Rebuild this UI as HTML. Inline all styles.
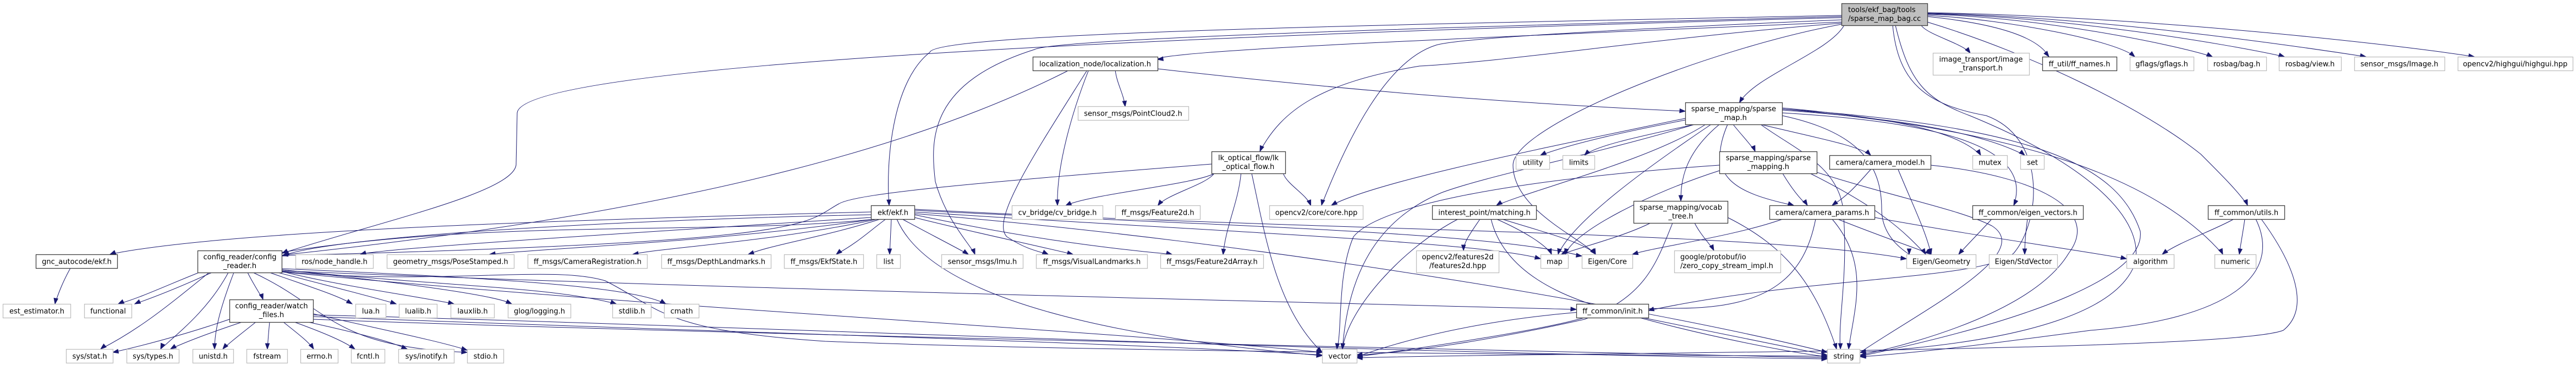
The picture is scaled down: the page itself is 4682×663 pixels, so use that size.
<!DOCTYPE html>
<html><head><meta charset="utf-8">
<style>
html,body{margin:0;padding:0;background:#fff;}
svg{display:block;}
text{font-family:"DejaVu Sans","Liberation Sans",sans-serif;font-size:13px;fill:#000;text-anchor:middle;}
.b{fill:#fff;stroke:#404040;stroke-width:1.3;}
.g{fill:#fff;stroke:#bfbfbf;stroke-width:1.3;}
.e{fill:none;stroke:#191970;stroke-width:1;}
.a{fill:#191970;stroke:#191970;stroke-width:1;}
</style></head><body>
<svg id="s" width="4682" height="663" viewBox="0 0 4682 663" xmlns="http://www.w3.org/2000/svg">
<g id="edges"></g>
<g id="nodes">
<rect id="R" x="3347.5" y="6.5" width="156" height="40" style="fill:#bfbfbf;stroke:#404040;stroke-width:1.3"/><text x="3359" y="22" style="text-anchor:start">tools/ekf_bag/tools</text><text x="3359" y="38" style="text-anchor:start">/sparse_map_bag.cc</text>
<rect id="loc" class="b" x="1877.5" y="103.5" width="227" height="25"/><text x="1990.5" y="120.5">localization_node/localization.h</text>
<rect id="imgt" class="g" x="3513.5" y="96.5" width="175" height="40"/><text x="3600.5" y="112">image_transport/image</text><text x="3600.5" y="128">_transport.h</text>
<rect id="ffn" class="b" x="3712.5" y="103.5" width="135" height="25"/><text x="3779.5" y="120.5">ff_util/ff_names.h</text>
<rect id="gfl" class="g" x="3871.5" y="103.5" width="116" height="25"/><text x="3929" y="120.5">gflags/gflags.h</text>
<rect id="bag" class="g" x="4012.5" y="103.5" width="107" height="25"/><text x="4065.5" y="120.5">rosbag/bag.h</text>
<rect id="view" class="g" x="4142.5" y="103.5" width="113" height="25"/><text x="4198.5" y="120.5">rosbag/view.h</text>
<rect id="simg" class="g" x="4279.5" y="103.5" width="164" height="25"/><text x="4361" y="120.5">sensor_msgs/Image.h</text>
<rect id="hg" class="g" x="4467.5" y="103.5" width="209" height="25"/><text x="4571.5" y="120.5">opencv2/highgui/highgui.hpp</text>
<rect id="pc2" class="g" x="1959.5" y="193.5" width="201" height="25"/><text x="2059.5" y="210.5">sensor_msgs/PointCloud2.h</text>
<rect id="sm" class="b" x="3063.5" y="186.5" width="176" height="40"/><text x="3151" y="202">sparse_mapping/sparse</text><text x="3151" y="218">_map.h</text>
<rect id="lk" class="b" x="2202.5" y="275.5" width="134" height="40"/><text x="2269" y="291">lk_optical_flow/lk</text><text x="2269" y="307">_optical_flow.h</text>
<rect id="util" class="g" x="2755.5" y="282.5" width="61" height="25"/><text x="2786" y="299.5">utility</text>
<rect id="lim" class="g" x="2840.5" y="282.5" width="58" height="25"/><text x="2869.5" y="299.5">limits</text>
<rect id="smp" class="b" x="3125.5" y="275.5" width="177" height="40"/><text x="3214" y="291">sparse_mapping/sparse</text><text x="3214" y="307">_mapping.h</text>
<rect id="cm" class="b" x="3325.5" y="282.5" width="184" height="25"/><text x="3417.5" y="299.5">camera/camera_model.h</text>
<rect id="mtx" class="g" x="3585.5" y="282.5" width="63" height="25"/><text x="3617" y="299.5">mutex</text>
<rect id="set" class="g" x="3672.5" y="282.5" width="43" height="25"/><text x="3694" y="299.5">set</text>
<rect id="ekf" class="b" x="1583.5" y="373.5" width="79" height="25"/><text x="1623" y="390.5">ekf/ekf.h</text>
<rect id="cvb" class="g" x="1839.5" y="373.5" width="165" height="25"/><text x="1922" y="390.5">cv_bridge/cv_bridge.h</text>
<rect id="f2d" class="g" x="2027.5" y="373.5" width="154" height="25"/><text x="2104.5" y="390.5">ff_msgs/Feature2d.h</text>
<rect id="core" class="g" x="2307.5" y="373.5" width="170" height="25"/><text x="2392.5" y="390.5">opencv2/core/core.hpp</text>
<rect id="ipm" class="b" x="2603.5" y="373.5" width="189" height="25"/><text x="2698" y="390.5">interest_point/matching.h</text>
<rect id="voc" class="b" x="2969.5" y="365.5" width="171" height="40"/><text x="3055" y="381">sparse_mapping/vocab</text><text x="3055" y="397">_tree.h</text>
<rect id="cp" class="b" x="3216.5" y="373.5" width="191" height="25"/><text x="3312" y="390.5">camera/camera_params.h</text>
<rect id="ev" class="b" x="3585.5" y="373.5" width="201" height="25"/><text x="3686" y="390.5">ff_common/eigen_vectors.h</text>
<rect id="ut" class="b" x="4013.5" y="373.5" width="139" height="25"/><text x="4083" y="390.5">ff_common/utils.h</text>
<rect id="gnc" class="b" x="65.5" y="462.5" width="148" height="25"/><text x="139.5" y="479.5">gnc_autocode/ekf.h</text>
<rect id="cr" class="b" x="359.5" y="455.5" width="153" height="40"/><text x="436" y="471">config_reader/config</text><text x="436" y="487">_reader.h</text>
<rect id="nh" class="g" x="537.5" y="462.5" width="141" height="25"/><text x="608" y="479.5">ros/node_handle.h</text>
<rect id="pose" class="g" x="703.5" y="462.5" width="231" height="25"/><text x="819" y="479.5">geometry_msgs/PoseStamped.h</text>
<rect id="camreg" class="g" x="959.5" y="462.5" width="217" height="25"/><text x="1068" y="479.5">ff_msgs/CameraRegistration.h</text>
<rect id="depth" class="g" x="1202.5" y="462.5" width="199" height="25"/><text x="1302" y="479.5">ff_msgs/DepthLandmarks.h</text>
<rect id="ekfs" class="g" x="1425.5" y="462.5" width="144" height="25"/><text x="1497.5" y="479.5">ff_msgs/EkfState.h</text>
<rect id="list" class="g" x="1593.5" y="462.5" width="43" height="25"/><text x="1615" y="479.5">list</text>
<rect id="imu" class="g" x="1711.5" y="462.5" width="148" height="25"/><text x="1785.5" y="479.5">sensor_msgs/Imu.h</text>
<rect id="vl" class="g" x="1883.5" y="462.5" width="202" height="25"/><text x="1984.5" y="479.5">ff_msgs/VisualLandmarks.h</text>
<rect id="f2da" class="g" x="2109.5" y="462.5" width="187" height="25"/><text x="2203" y="479.5">ff_msgs/Feature2dArray.h</text>
<rect id="f2dh" class="g" x="2574.5" y="455.5" width="150" height="40"/><text x="2649.5" y="471">opencv2/features2d</text><text x="2649.5" y="487">/features2d.hpp</text>
<rect id="map" class="g" x="2800.5" y="462.5" width="50" height="25"/><text x="2825.5" y="479.5">map</text>
<rect id="ecore" class="g" x="2875.5" y="462.5" width="92" height="25"/><text x="2921.5" y="479.5">Eigen/Core</text>
<rect id="proto" class="g" x="3043.5" y="455.5" width="193" height="40"/><text x="3054" y="471" style="text-anchor:start">google/protobuf/io</text><text x="3054" y="487" style="text-anchor:start">/zero_copy_stream_impl.h</text>
<rect id="egeo" class="g" x="3465.5" y="462.5" width="126" height="25"/><text x="3528.5" y="479.5">Eigen/Geometry</text>
<rect id="estd" class="g" x="3615.5" y="462.5" width="124" height="25"/><text x="3677.5" y="479.5">Eigen/StdVector</text>
<rect id="alg" class="g" x="3865.5" y="462.5" width="86" height="25"/><text x="3908.5" y="479.5">algorithm</text>
<rect id="num" class="g" x="4025.5" y="462.5" width="75" height="25"/><text x="4063" y="479.5">numeric</text>
<rect id="est" class="g" x="5.5" y="552.5" width="123" height="25"/><text x="67" y="569.5">est_estimator.h</text>
<rect id="func" class="g" x="153.5" y="552.5" width="86" height="25"/><text x="196.5" y="569.5">functional</text>
<rect id="wf" class="b" x="417.5" y="544.5" width="152" height="41"/><text x="493.5" y="560">config_reader/watch</text><text x="493.5" y="576">_files.h</text>
<rect id="lua" class="g" x="646.5" y="552.5" width="55" height="25"/><text x="674" y="569.5">lua.h</text>
<rect id="lualib" class="g" x="725.5" y="552.5" width="69" height="25"/><text x="760" y="569.5">lualib.h</text>
<rect id="laux" class="g" x="819.5" y="552.5" width="79" height="25"/><text x="859" y="569.5">lauxlib.h</text>
<rect id="glog" class="g" x="923.5" y="552.5" width="114" height="25"/><text x="980.5" y="569.5">glog/logging.h</text>
<rect id="stdlib" class="g" x="1113.5" y="552.5" width="70" height="25"/><text x="1148.5" y="569.5">stdlib.h</text>
<rect id="cmath" class="g" x="1207.5" y="552.5" width="63" height="25"/><text x="1239" y="569.5">cmath</text>
<rect id="init" class="b" x="2865.5" y="552.5" width="131" height="25"/><text x="2931" y="569.5">ff_common/init.h</text>
<rect id="sstat" class="g" x="120.5" y="634.5" width="85" height="25"/><text x="163" y="651.5">sys/stat.h</text>
<rect id="stypes" class="g" x="230.5" y="634.5" width="95" height="25"/><text x="278" y="651.5">sys/types.h</text>
<rect id="unistd" class="g" x="350.5" y="634.5" width="74" height="25"/><text x="387.5" y="651.5">unistd.h</text>
<rect id="fstream" class="g" x="448.5" y="634.5" width="74" height="25"/><text x="485.5" y="651.5">fstream</text>
<rect id="errno" class="g" x="546.5" y="634.5" width="68" height="25"/><text x="580.5" y="651.5">errno.h</text>
<rect id="fcntl" class="g" x="638.5" y="634.5" width="61" height="25"/><text x="669" y="651.5">fcntl.h</text>
<rect id="inot" class="g" x="724.5" y="634.5" width="101" height="25"/><text x="775" y="651.5">sys/inotify.h</text>
<rect id="stdio" class="g" x="849.5" y="634.5" width="66" height="25"/><text x="882.5" y="651.5">stdio.h</text>
<rect id="vector" class="g" x="2403.5" y="634.5" width="63" height="25"/><text x="2435" y="651.5">vector</text>
<rect id="string" class="g" x="3321.5" y="634.5" width="59" height="25"/><text x="3351" y="651.5">string</text>
</g>
</svg>
<script>
(function(){
var NS="http://www.w3.org/2000/svg",G=document.getElementById("edges");
function n(id){var r=document.getElementById(id);var x=+r.getAttribute("x"),y=+r.getAttribute("y"),w=+r.getAttribute("width"),h=+r.getAttribute("height");return{x1:x,y1:y,x2:x+w,y2:y+h,cx:x+w/2,cy:y+h/2,w:w,h:h};}
function cl(v,a,b){return Math.max(a,Math.min(b,v));}
function draw(d,c2x,c2y,ex,ey){
 var p=document.createElementNS(NS,"path");p.setAttribute("d",d);p.setAttribute("class","e");G.appendChild(p);
 var dx=ex-c2x,dy=ey-c2y,L=Math.sqrt(dx*dx+dy*dy)||1;dx/=L;dy/=L;
 var bx=ex-dx*10,by=ey-dy*10,px=-dy*3.6,py=dx*3.6;
 var a=document.createElementNS(NS,"polygon");
 a.setAttribute("points",ex+","+ey+" "+(bx+px)+","+(by+py)+" "+(bx-px)+","+(by-py));
 a.setAttribute("class","a");G.appendChild(a);
}
function E(s,t,side,o1,o2){
 var S=n(s),T=n(t);o1=o1||0;o2=o2||0;
 var ex=T.cx+o2,ey=T.y1,dx=ex-S.cx;
 var sx=S.cx+cl(dx*0.3,-S.w/2+6,S.w/2-6)+o1;sx=cl(sx,S.x1+4,S.x2-4);
 var sy=S.y2;
 var c1x=sx+(ex-sx)*0.15,c1y=sy+(ey-sy)*0.35,c2x=ex-(ex-sx)*0.15,c2y=ey-(ey-sy)*0.35;
 draw("M"+sx+","+sy+" C"+c1x+","+c1y+" "+c2x+","+c2y+" "+ex+","+ey,c2x,c2y,ex,ey);
}
function P(d,c2x,c2y,ex,ey){draw(d,c2x,c2y,ex,ey);}
/* root */
P("M3347,32 C2300,60 950,110 940,205 L938,300 C930,350 700,400 513,460",600,420,513,460);
P("M3347,28 C2500,45 1700,60 1690,95 C1620,150 1610,300 1616,373",1614,330,1616,373);
P("M3347,30 C2600,50 1920,70 1880,90 C1690,150 1690,250 1700,330 C1720,400 1760,440 1772,462",1764,440,1772,462);
P("M3347,40 C2900,60 2100,90 2104,108",2180,98,2104,108);
P("M3347,42 C3000,70 2760,110 2580,120 C2400,150 2330,200 2290,275",2300,250,2290,275);
P("M3347,36 C2900,55 2650,70 2610,82 C2520,110 2450,250 2402,373",2410,340,2402,373);
P("M3347,44 C3100,90 2750,230 2750,300 C2750,380 2870,430 2900,462",2890,440,2900,462);
E("R","sm","t",-30,10);
E("R","imgt","t",20,-20);
P("M3503,30 C3600,40 3700,60 3724,103",3710,85,3724,103);
P("M3503,28 C3650,35 3850,75 3880,103",3865,90,3880,103);
P("M3503,26 C3700,30 3950,80 4021,103",4000,93,4021,103);
P("M3503,25 C3750,30 4050,80 4152,103",4120,93,4152,103);
P("M3503,24 C3800,30 4150,80 4300,103",4260,95,4300,103);
P("M3503,23 C3900,30 4350,80 4497,103",4450,95,4497,103);
P("M3503,40 C3700,100 3900,200 4000,280 C4040,320 4070,350 4085,373",4078,355,4085,373);
P("M3440,46 C3450,150 3500,190 3610,210 C3720,250 3710,400 3660,460 C3600,510 3300,500 2996,564",3080,540,2996,564);
P("M3445,46 C3470,150 3500,180 3580,210 C3800,300 3900,400 3880,480 C3850,560 3700,620 3381,640",3440,634,3381,640);
/* localization */
P("M1940,129 C1700,250 1300,380 515,463",560,450,515,463);
E("loc","pc2","t",20,-15);
P("M1978,129 C1950,200 1920,300 1922,373",1921,340,1922,373);
P("M1975,129 C1880,280 1800,400 1830,430 C1860,450 1880,455 1905,462",1890,455,1905,462);
P("M2104,125 C2500,170 2800,190 3063,202",3000,197,3063,202);
/* lk */
P("M2202,298 C1800,330 1560,350 1525,370 C1460,405 1500,440 513,464",560,455,513,464);
E("lk","cvb","t",-40,15);
E("lk","f2d","t",-20,0);
E("lk","f2da","t",0,20);
E("lk","core","t",30,-10);
P("M2275,315 C2300,430 2320,560 2403,640",2380,620,2403,640);
/* sparse_map */
P("M3063,218 C2950,240 2860,260 2800,282",2820,272,2800,282);
P("M3080,226 C2970,250 2900,265 2880,282",2890,272,2880,282);
P("M3063,215 C2800,270 2500,330 2420,373",2450,355,2420,373);
P("M3100,226 C3000,290 2800,340 2720,373",2740,360,2720,373);
P("M3110,226 C3000,300 2860,400 2832,462",2840,430,2832,462);
P("M3080,226 C2900,280 2700,320 2620,350 C2500,400 2450,500 2440,634",2442,590,2440,634);
P("M3125,226 C3060,280 3055,330 3055,365",3055,345,3055,365);
P("M3150,226 C3165,245 3180,260 3190,275",3185,262,3190,275);
P("M3140,226 C3100,320 3150,350 3260,373",3220,360,3260,373);
P("M3200,226 C3300,250 3380,265 3400,282",3390,272,3400,282);
P("M3239,196 C3450,215 3560,240 3600,282",3590,265,3600,282);
P("M3239,200 C3450,215 3600,240 3680,282",3660,265,3680,282);
P("M3239,205 C3500,220 3700,260 3660,373",3675,340,3660,373);
P("M3239,210 C3380,240 3420,300 3420,380 C3420,430 3460,455 3470,462",3470,445,3470,462);
P("M3239,198 C3700,230 3850,300 3890,420 C3900,500 3700,580 3381,647",3440,638,3381,647);
P("M3239,198 C3600,230 3900,300 4040,462",4030,440,4040,462);
P("M3200,226 C3260,270 3340,300 3350,380 C3360,500 3340,580 3345,634",3345,610,3345,634);
/* sparse_mapping.h */
P("M3125,300 C2700,330 2500,380 2460,430 C2430,500 2440,600 2430,634",2432,610,2430,634);
P("M3125,310 C3000,350 2860,420 2845,462",2850,440,2845,462);
P("M3240,315 C3255,340 3270,360 3285,373",3278,362,3285,373);
P("M3290,315 C3420,380 3460,420 3500,462",3490,445,3500,462);
P("M3302,313 C3450,360 3560,380 3620,410 C3700,460 3500,560 3381,640",3440,632,3381,640);
/* camera model */
P("M3400,308 C3380,330 3360,355 3330,373",3345,362,3330,373);
P("M3450,308 C3480,380 3500,420 3510,462",3505,440,3510,462);
P("M3509,300 C3700,320 3820,380 3760,460 C3700,560 3500,620 3381,645",3430,640,3381,645);
/* interest point */
P("M2690,398 C2675,420 2660,440 2660,455",2660,445,2660,455);
P("M2720,398 C2770,420 2810,445 2820,462",2816,452,2820,462);
P("M2730,398 C2800,420 2880,440 2900,462",2890,450,2900,462);
P("M2650,398 C2550,450 2450,560 2440,634",2442,605,2440,634);
P("M2710,398 C2740,520 2900,560 3000,580 C3150,610 3250,630 3321,645",3280,640,3321,645);
/* vocab */
P("M3000,405 C2950,430 2870,450 2838,462",2850,455,2838,462);
P("M3040,405 C3010,480 2990,540 2880,580 C2700,620 2560,640 2466,645",2500,640,2466,645);
P("M3080,405 C3090,425 3105,440 3115,455",3110,445,3115,455);
P("M3140,395 C3250,450 3300,520 3338,634",3330,605,3338,634);
/* camera params */
P("M3240,398 C3150,430 3000,450 2967,462",2990,455,2967,462);
P("M3340,398 C3420,430 3480,450 3510,462",3500,455,3510,462);
P("M3300,398 C3280,500 3220,560 3050,560 C2800,560 2600,600 2466,648",2500,640,2466,648);
P("M3330,398 C3400,480 3370,560 3360,634",3362,610,3360,634);
P("M3407,395 C3600,430 3750,450 3865,470",3830,462,3865,470);
/* eigen vectors */
P("M3685,398 C3682,420 3680,440 3680,462",3680,450,3680,462);
P("M3620,398 C3600,420 3580,440 3560,462",3570,450,3560,462);
/* utils */
P("M4060,398 C4020,420 3960,440 3930,462",3945,450,3930,462);
P("M4080,398 C4077,420 4073,440 4070,462",4072,450,4070,462);
P("M4100,398 C4150,500 4050,580 3800,600 C3650,620 3500,640 3381,648",3430,645,3381,648);
P("M4110,398 C4170,480 4200,560 4150,600 C4050,640 2800,640 2466,650",2520,650,2466,650);
/* init */
P("M2880,577 C2800,600 2600,630 2466,648",2500,645,2466,648);
P("M2980,577 C3100,610 3250,640 3321,648",3290,646,3321,648);
/* ekf */
P("M1583,390 C1100,400 600,430 513,465",540,455,513,465);
P("M1583,385 C1000,400 400,420 200,462",230,450,200,462);
P("M1583,395 C1200,420 700,450 655,462",680,455,655,462);
P("M1590,398 C1300,440 1000,450 890,462",930,457,890,462);
P("M1595,398 C1400,440 1200,450 1150,462",1180,457,1150,462);
P("M1600,398 C1500,430 1400,445 1360,462",1380,455,1360,462);
P("M1610,398 C1580,420 1560,440 1520,462",1535,450,1520,462);
P("M1620,398 C1619,420 1618,440 1617,462",1617,450,1617,462);
P("M1640,398 C1680,420 1720,440 1760,462",1745,452,1760,462);
P("M1662,395 C1760,420 1880,445 1950,462",1925,455,1950,462);
P("M1662,390 C1850,430 2000,450 2130,462",2110,457,2130,462);
P("M1590,398 C1300,430 800,390 400,480 C320,510 260,540 215,552",240,540,215,552);
P("M1662,385 C2200,420 2700,440 2800,470",2770,462,2800,470);
P("M1662,382 C2200,410 2700,420 2875,465",2840,460,2875,465);
P("M1662,380 C2400,420 3200,420 3465,470",3420,465,3465,470);
P("M1630,398 C1700,560 2100,620 2403,646",2360,644,2403,646);
P("M1662,388 C2300,440 3000,560 3321,640",3290,632,3321,640);
/* gnc */
P("M128,487 C115,510 105,535 100,552",102,540,100,552);
/* config reader */
P("M385,495 C330,520 280,540 245,552",260,545,245,552);
P("M380,495 C300,560 250,600 183,634",200,620,183,634);
P("M415,495 C380,560 330,600 292,634",300,615,292,634);
P("M425,495 C400,560 390,600 390,634",390,615,390,634);
P("M450,495 C460,515 470,530 478,544",475,535,478,544);
P("M490,495 C560,520 610,535 640,552",628,545,640,552);
P("M505,495 C600,520 680,540 720,552",705,547,720,552);
P("M512,493 C620,520 770,540 825,552",805,547,825,552);
P("M512,490 C700,510 900,535 930,552",915,545,930,552);
P("M512,490 C800,520 1000,520 1120,552",1100,545,1120,552);
P("M512,488 C900,505 1150,520 1210,552",1190,540,1210,552);
P("M460,495 C600,560 600,630 849,640",820,638,849,640);
P("M512,492 C1200,520 2000,540 2865,562",2830,560,2865,562);
P("M512,494 C1200,560 2000,600 2403,640",2370,638,2403,640);
P("M512,493 C800,520 1000,480 1100,510 C1200,560 1200,600 1500,620 C2000,640 3000,645 3321,647",3280,647,3321,647);
/* watch files */
P("M417,580 C330,610 250,630 205,640",230,635,205,640);
P("M440,585 C380,605 340,620 310,634",320,628,310,634);
P("M465,585 C440,605 420,620 405,634",410,628,405,634);
P("M490,585 C488,605 487,620 486,634",486,625,486,634);
P("M515,585 C540,605 560,620 570,634",565,626,570,634);
P("M535,585 C590,605 625,620 645,634",635,627,645,634);
P("M560,585 C650,605 710,620 740,634",725,628,740,634);
P("M569,570 C700,600 800,620 849,636",830,630,849,636);
P("M569,575 C1200,600 2000,620 2403,645",2370,644,2403,645);
P("M569,580 C1400,610 2500,630 3321,650",3280,650,3321,650);
P("M569,572 C1300,590 2400,640 3321,652",3280,652,3321,652);
})();
</script>
</body></html>
